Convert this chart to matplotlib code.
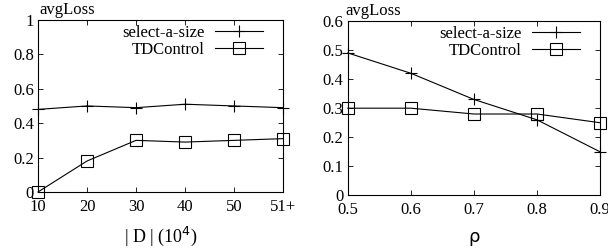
import matplotlib.pyplot as plt

plt.rcParams['font.family'] = ['Liberation Serif', 'DejaVu Serif']
plt.rcParams['font.size'] = 12

# left panel: |D|
d_labels = ["10", "20", "30", "40", "50", "51+"]
d_select = [0.48, 0.50, 0.49, 0.51, 0.50, 0.49]
d_td = [0.0, 0.18, 0.30, 0.29, 0.30, 0.31]

# right panel: rho
rho = [0.5, 0.6, 0.7, 0.8, 0.9]
rho_select = [0.49, 0.42, 0.33, 0.26, 0.15]
rho_td = [0.30, 0.30, 0.28, 0.28, 0.25]

fig = plt.figure(figsize=(6.08, 2.49), dpi=100)
ax1 = fig.add_axes([0.0625, 0.229, 0.403, 0.691])
ax2 = fig.add_axes([0.572, 0.215, 0.415, 0.701])


def style(ax):
    ax.tick_params(direction='in', top=True, right=True, length=3.5, width=0.6, pad=5)
    ax.tick_params(axis='y', pad=3)
    for s in ax.spines.values():
        s.set_linewidth(0.8)


xs = list(range(len(d_labels)))
ax1.plot(xs, d_select, color='black', lw=0.8, marker='+', ms=8, mew=0.8, label='select-a-size', clip_on=False)
ax1.plot(xs, d_td, color='black', lw=0.8, marker='s', ms=8, mew=0.8, mfc='none', label='TDControl', clip_on=False)
ax1.set_xlim(0, 5)
ax1.set_ylim(0, 1)
ax1.set_xticks(xs)
ax1.set_xticklabels(d_labels)
ax1.set_yticks([0, 0.2, 0.4, 0.6, 0.8, 1])
ax1.set_yticklabels(['0', '0.2', '0.4', '0.6', '0.8', '1'])
ax1.set_xlabel('| D | (10$^4$)', fontsize=13, labelpad=7)
ax1.text(0.005, 1.01, 'avgLoss', transform=ax1.transAxes, ha='left', va='bottom', fontsize=12)
style(ax1)
ax1.legend(loc='upper right', bbox_to_anchor=(0.932, 0.99), frameon=False, markerfirst=False,
           handlelength=2.9, borderaxespad=0, borderpad=0.2, labelspacing=0.05, handletextpad=0.6)

ax2.plot(rho, rho_select, color='black', lw=0.8, marker='+', ms=8, mew=0.8, label='select-a-size', clip_on=False)
ax2.plot(rho, rho_td, color='black', lw=0.8, marker='s', ms=8, mew=0.8, mfc='none', label='TDControl', clip_on=False)
ax2.set_xlim(0.5, 0.9)
ax2.set_ylim(0, 0.6)
ax2.set_xticks(rho)
ax2.set_xticklabels(['0.5', '0.6', '0.7', '0.8', '0.9'])
ax2.set_yticks([0, 0.1, 0.2, 0.3, 0.4, 0.5, 0.6])
ax2.set_yticklabels(['0', '0.1', '0.2', '0.3', '0.4', '0.5', '0.6'])
ax2.set_xlabel('ρ', fontsize=13, labelpad=7, family=['DejaVu Sans'])
ax2.text(-0.01, 1.01, 'avgLoss', transform=ax2.transAxes, ha='left', va='bottom', fontsize=12)
style(ax2)
ax2.legend(loc='upper right', bbox_to_anchor=(0.934, 0.99), frameon=False, markerfirst=False,
           handlelength=2.9, borderaxespad=0, borderpad=0.2, labelspacing=0.05, handletextpad=0.6)

fig.savefig('out.png', dpi=100)
